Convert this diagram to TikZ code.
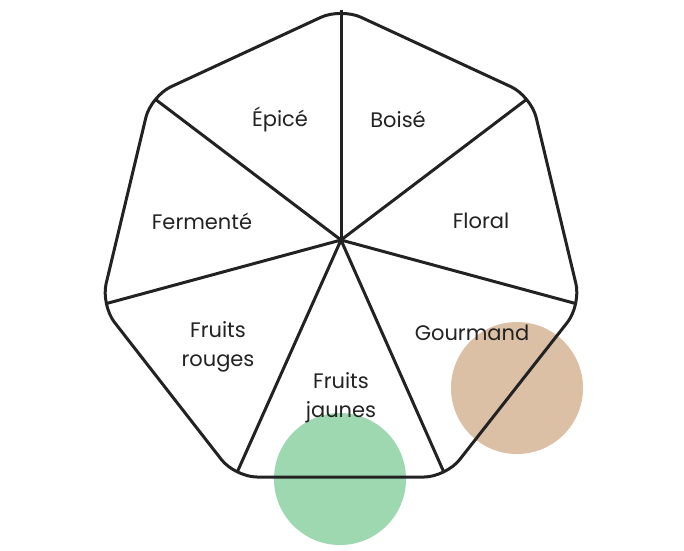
\documentclass[tikz,border=0pt]{standalone}
\usepackage{fontspec}
\setmainfont{Poppins}
\definecolor{grn}{HTML}{9DD8B0}
\definecolor{tan}{HTML}{DCC0A6}
\definecolor{ink}{HTML}{222222}
\begin{document}
\begin{tikzpicture}[x=1pt,y=-1pt,
  edge/.style={draw=ink,line width=3pt,line join=round},
  lbl/.style={font=\fontsize{21}{29}\selectfont,text=ink,align=center,inner sep=0pt},
  blob/.style={circle,minimum size=132pt,inner sep=0pt}]
\useasboundingbox (0,0) rectangle (684,550);
\node[blob,fill=grn] (g) at (340,479) {};
\node[blob,fill=tan] (t) at (517,388) {};
\coordinate (c) at (341,240);
\coordinate (v1) at (341,8);
\coordinate (v2) at (531,96);
\coordinate (v3) at (581,305);
\coordinate (v4) at (446,477);
\coordinate (v5) at (235,477);
\coordinate (v6) at (101,305);
\coordinate (v7) at (151,96);
\draw[edge,rounded corners=22pt] (v1)--(v2)--(v3)--(v4)--(v5)--(v6)--(v7)--cycle;
\foreach \v in {v2,v3,v4,v5,v6,v7} \draw[edge,shorten >=5.5pt] (c)--(\v);
\draw[edge,shorten >=1.5pt] (c)--(v1);
\node[lbl] (a) at (280,119) {Épicé};
\node[lbl] (b) at (398,119) {Boisé};
\node[lbl] (f) at (481,221) {Floral};
\node[lbl] (e) at (202,221) {Fermenté};
\node[lbl] (r) at (218,347) {Fruits\\rouges};
\node[lbl] (j) at (341,398) {Fruits\\jaunes};
\node[lbl] (m) at (472,333) {Gourmand};
\end{tikzpicture}
\end{document}
